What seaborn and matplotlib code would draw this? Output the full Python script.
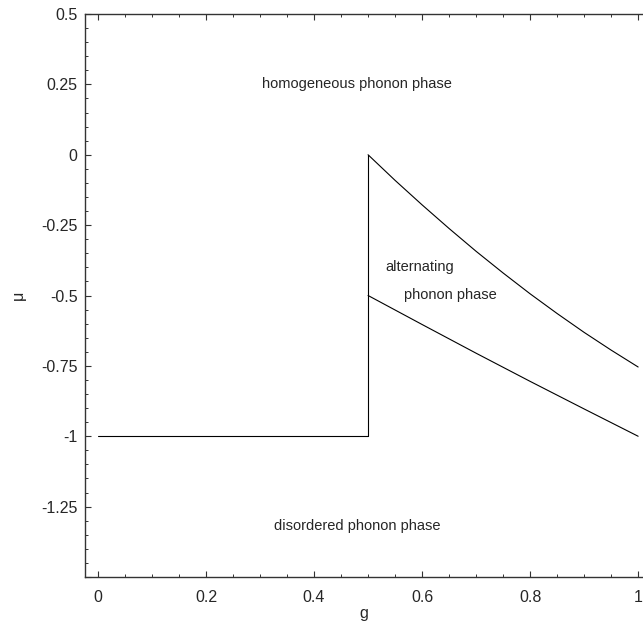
import numpy as np
import pandas as pd
import matplotlib
matplotlib.use("Agg")
import matplotlib.pyplot as plt
import seaborn as sns
from matplotlib.ticker import MultipleLocator, FuncFormatter

# -----------------------------
# Phase boundaries
# -----------------------------
flat_g = [0.0, 0.5]
flat_mu = [-1.0, -1.0]

jump_g = [0.5, 0.5]
jump_mu = [-1.0, 0.0]

upper_g = [0.5, 0.55, 0.6, 0.65, 0.7, 0.75, 0.8, 0.85, 0.9, 0.95, 1.0]
upper_mu = [0.0, -0.091, -0.178, -0.262, -0.343, -0.42, -0.494, -0.564, -0.631, -0.694, -0.754]

lower_g = [0.5, 0.6, 0.7, 0.8, 0.9, 1.0]
lower_mu = [-0.5, -0.603, -0.705, -0.805, -0.903, -1.0]

phase_labels = ["homogeneous phonon phase", "alternating", "phonon phase",
                "disordered phonon phase"]
label_g = [0.48, 0.596, 0.652, 0.48]
label_mu = [0.25, -0.40, -0.50, -1.318]

# -----------------------------
# Style
# -----------------------------
sns.set_style("ticks")
plt.rcParams['font.family'] = ['Liberation Sans', 'DejaVu Sans']

fig = plt.figure(figsize=(6.43, 6.28), dpi=100)
ax = fig.add_axes([84.5 / 643, 1 - 577 / 628, 1 - 84.5 / 643, (577 - 14) / 628])

segments = [(flat_g, flat_mu), (jump_g, jump_mu), (upper_g, upper_mu), (lower_g, lower_mu)]
for g, mu in segments:
    seg = pd.DataFrame({'g': g, 'mu': mu})
    sns.lineplot(data=seg, x='g', y='mu', sort=False, estimator=None,
                 color='black', linewidth=0.8, ax=ax)

for txt, gx, my in zip(phase_labels, label_g, label_mu):
    ax.text(gx, my, txt, ha='center', va='center', fontsize=10.5)

ax.set_xlim(-0.025, 1.009)
ax.set_ylim(-1.5, 0.5)

ax.xaxis.set_major_locator(MultipleLocator(0.2))
ax.xaxis.set_minor_locator(MultipleLocator(0.05))
ax.yaxis.set_major_locator(MultipleLocator(0.25))
ax.yaxis.set_minor_locator(MultipleLocator(0.05))


def fmt(v, pos):
    if v < -1.4:
        return ""
    s = f"{v:.2f}".rstrip('0').rstrip('.')
    return "0" if s in ("-0", "0") else s


ax.xaxis.set_major_formatter(FuncFormatter(fmt))
ax.yaxis.set_major_formatter(FuncFormatter(fmt))

ax.tick_params(which='both', direction='in', top=True, right=False,
               labelsize=11.5, color='#333333')
ax.tick_params(axis='y', pad=5)
ax.tick_params(axis='x', pad=9)
ax.tick_params(which='major', length=4, width=0.8)
ax.tick_params(which='minor', length=2.5, width=0.7)

for side in ['left', 'bottom', 'top']:
    ax.spines[side].set_visible(True)
    ax.spines[side].set_color('#333333')
    ax.spines[side].set_linewidth(1.0)
ax.spines['right'].set_visible(False)

ax.set_xlabel("g", fontsize=11.5, labelpad=1)
ax.set_ylabel("μ", fontsize=11.5, labelpad=11)

fig.savefig("out.png", dpi=100)
